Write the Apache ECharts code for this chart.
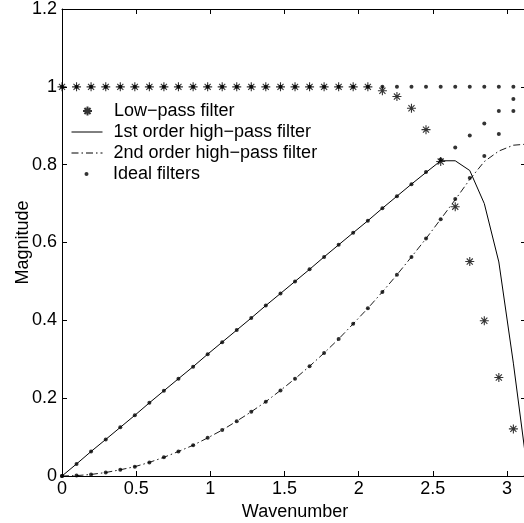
<!DOCTYPE html>
<html>
<head>
<meta charset="utf-8">
<script src="https://cdn.jsdelivr.net/npm/echarts@6/dist/echarts.min.js"></script>
<style>
  html, body { margin: 0; padding: 0; background: #fff; }
  #chart { width: 524px; height: 523px; }
</style>
</head>
<body>
<div id="chart"></div>
<script>
//  Data

var wavenumber = [0, 0.098, 0.196, 0.295, 0.393, 0.491, 0.589, 0.687, 0.785, 0.884, 0.982,
  1.080, 1.178, 1.276, 1.374, 1.473, 1.571, 1.669, 1.767, 1.865, 1.963, 2.062, 2.160,
  2.258, 2.356, 2.454, 2.553, 2.651, 2.749, 2.847, 2.945, 3.043, 3.142];

var lowPass = [1, 1, 1, 1, 1, 1, 1, 1, 1, 1, 1, 1, 1, 1, 1, 1, 1, 1, 1, 1, 1, 1,
  0.99, 0.975, 0.945, 0.89, 0.808, 0.692, 0.551, 0.399, 0.253, 0.121, 0];

var highPass1 = [0, 0.031, 0.063, 0.094, 0.125, 0.156, 0.188, 0.219, 0.25, 0.281, 0.313,
  0.344, 0.375, 0.406, 0.438, 0.469, 0.5, 0.531, 0.563, 0.594, 0.625, 0.656, 0.688,
  0.719, 0.75, 0.78, 0.81, 0.81, 0.785, 0.70, 0.55, 0.29, 0];

var highPass2 = [0, 0.001, 0.004, 0.009, 0.016, 0.024, 0.035, 0.048, 0.063, 0.079, 0.098,
  0.118, 0.141, 0.165, 0.191, 0.22, 0.25, 0.282, 0.316, 0.352, 0.391, 0.431, 0.473,
  0.517, 0.563, 0.61, 0.66, 0.71, 0.762, 0.808, 0.835, 0.85, 0.853];

var idealLow = [1, 1, 1, 1, 1, 1, 1, 1, 1, 1, 1, 1, 1, 1, 1, 1, 1, 1, 1, 1, 1, 1,
  1, 1, 1, 1, 1, 1, 1, 1, 1, 1, 1];

var idealFirst = [0, 0.031, 0.063, 0.094, 0.125, 0.156, 0.188, 0.219, 0.25, 0.281, 0.313,
  0.344, 0.375, 0.406, 0.438, 0.469, 0.5, 0.531, 0.563, 0.594, 0.625, 0.656, 0.688,
  0.719, 0.75, 0.781, 0.813, 0.844, 0.875, 0.906, 0.938, 0.969, 1];

var idealSecond = [0, 0.001, 0.004, 0.009, 0.016, 0.024, 0.035, 0.048, 0.063, 0.079, 0.098,
  0.118, 0.141, 0.165, 0.191, 0.22, 0.25, 0.282, 0.316, 0.352, 0.391, 0.431, 0.473,
  0.517, 0.563, 0.61, 0.66, 0.712, 0.766, 0.822, 0.879, 0.938, 1];

var xTicks = [0, 0.5, 1, 1.5, 2, 2.5, 3];

//  Helpers

function pairs(values) {
  return values.map(function(v, i) { return [wavenumber[i], v]; });
}

var font = "'Liberation Sans', Arial, Helvetica, sans-serif";
var asterisk = 'path://M5,0L5,10M0,5L10,5M1.6,1.6L8.4,8.4M1.6,8.4L8.4,1.6';

function xLabel(v) {
  return xTicks.indexOf(Math.round(v * 1000) / 1000) >= 0 ? String(v) : '';
}

function boxAxis(extra, tickLen) {
  var a = {
    axisLine: { show: true, onZero: false, lineStyle: { color: '#000', width: 1 } },
    axisTick: { show: true, inside: true, length: tickLen || 5, lineStyle: { color: '#000' } },
    splitLine: { show: false }
  };
  for (var k in extra) a[k] = extra[k];
  return a;
}

// symbol icons only count their own box, so those legends are nudged right
function legendBox(left, top, names, h) {
  return {
    orient: 'vertical',
    left: left,
    top: top,
    padding: 0,
    itemGap: 1,
    itemWidth: 31,
    itemHeight: h,
    data: names,
    selectedMode: false,
    lineStyle: { width: 1 },
    textStyle: { fontFamily: font, fontSize: 18, color: '#000', lineHeight: 20, padding: [0, 0, 0, 6] }
  };
}

var hideDot = { color: 'rgba(0,0,0,0)', borderColor: 'rgba(0,0,0,0)', opacity: 0 };

//  Chart

var myChart = echarts.init(document.getElementById('chart'), null, { renderer: 'canvas' });

var option = {
  animation: false,
  backgroundColor: '#fff',
  grid: { left: 62, top: 9, right: -4, bottom: 47, containLabel: false, outerBoundsMode: 'none' },
  legend: [
    legendBox(82, 101, ['Low\u2212pass filter'], 9),
    legendBox(71, 122, [
      { name: '1st order high\u2212pass filter', itemStyle: hideDot },
      { name: '2nd order high\u2212pass filter', itemStyle: hideDot }
    ], 14),
    legendBox(84.5, 164, ['Ideal filters'], 4)
  ],
  xAxis: [
    boxAxis({
      type: 'value', position: 'bottom', min: 0, max: 3.1416, interval: 0.5,
      name: 'Wavenumber', nameLocation: 'middle', nameGap: 19,
      nameTextStyle: { fontFamily: font, fontSize: 18, color: '#000' },
      axisLabel: { margin: 4, fontFamily: font, fontSize: 18, color: '#000', formatter: xLabel }
    }),
    boxAxis({
      type: 'value', position: 'top', min: 0, max: 3.1416, interval: 0.5,
      axisLabel: { show: false }
    })
  ],
  yAxis: [
    boxAxis({
      type: 'value', position: 'left', min: 0, max: 1.2, interval: 0.2,
      name: 'Magnitude', nameLocation: 'middle', nameGap: 30, nameRotate: 90,
      nameMoveOverlap: false,
      nameTextStyle: { fontFamily: font, fontSize: 18, color: '#000' },
      axisLabel: { margin: 5, fontFamily: font, fontSize: 18, color: '#000' }
    }),
    boxAxis({
      type: 'value', position: 'right', min: 0, max: 1.2, interval: 0.2,
      axisLabel: { show: false }
    }, 7)
  ],
  series: [
    {
      name: 'Low\u2212pass filter',
      type: 'scatter',
      data: pairs(lowPass),
      symbol: asterisk,
      symbolSize: 9,
      itemStyle: { color: 'rgba(0,0,0,0)', borderColor: '#000', borderWidth: 1.1 },
      z: 3
    },
    {
      name: '1st order high\u2212pass filter',
      type: 'line',
      data: pairs(highPass1),
      symbol: 'none',
      lineStyle: { color: '#000', width: 1 },
      itemStyle: { color: '#000' },
      z: 2
    },
    {
      name: '2nd order high\u2212pass filter',
      type: 'line',
      data: pairs(highPass2),
      symbol: 'none',
      lineStyle: { color: '#000', width: 0.9, type: [7, 3, 1.5, 3] },
      itemStyle: { color: '#000' },
      z: 2
    },
    {
      name: 'Ideal filters',
      type: 'scatter',
      data: pairs(idealLow),
      symbol: 'circle',
      symbolSize: 4,
      itemStyle: { color: '#000' },
      z: 4
    },
    {
      name: 'Ideal filters',
      type: 'scatter',
      data: pairs(idealFirst),
      symbol: 'circle',
      symbolSize: 4,
      itemStyle: { color: '#000' },
      z: 4
    },
    {
      name: 'Ideal filters',
      type: 'scatter',
      data: pairs(idealSecond),
      symbol: 'circle',
      symbolSize: 4,
      itemStyle: { color: '#000' },
      z: 4
    }
  ]
};

myChart.setOption(option);
</script>
</body>
</html>
